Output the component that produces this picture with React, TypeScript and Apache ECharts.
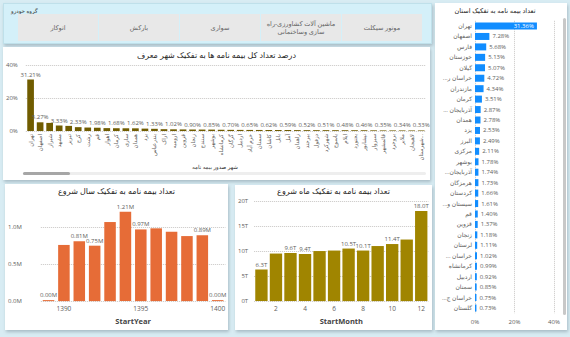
import React, { useEffect, useRef } from "react";
import * as echarts from "echarts";

const FONT = "'Segoe UI', 'Open Sans', 'DejaVu Sans', sans-serif";
const TXT = "#605e5c";
const TITLE = "#252423";
const GRID = "#c8c6c4";

// ---- slicer ----
const slicerTitle = "گروه خودرو";
const vehicleGroups = [
  "اتوکار",
  "بارکش",
  "سواری",
  "ماشین آلات کشاورزی-راه\nسازی وساختمانی",
  "موتور سیکلت",
];

// ---- city chart ----
const cityTitle = "درصد تعداد کل بیمه نامه ها به تفکیک شهر معرف";
const cityAxisName = "شهر صدور بیمه نامه";
const cities = [
  "تهران", "اصفهان", "شیراز", "مشهد", "تبریز", "کرج", "رشت", "قم", "اهواز", "کرمان",
  "ساری", "همدان", "یزد", "بندرعباس", "اراک", "ارومیه", "قزوین", "زنجان", "سنندج", "بوشهر",
  "کرمانشاه", "گرگان", "اردبیل", "خرم آباد", "سمنان", "کاشان", "بابل", "آمل", "زاهدان", "بیرجند",
  "دزفول", "شهرکرد", "یاسوج", "ایلام", "بجنورد", "نیشابور", "سبزوار", "قائمشهر", "بروجرد", "ملایر",
  "لاهیجان", "شهرستان...",
];
const cityShares = [
  31.21, 5.27, 4.9, 3.33, 3.1, 2.33, 2.1, 1.98, 1.75, 1.68,
  1.65, 1.62, 1.45, 1.33, 1.1, 1.02, 0.95, 0.9, 0.87, 0.85,
  0.75, 0.7, 0.67, 0.65, 0.63, 0.62, 0.6, 0.59, 0.55, 0.52,
  0.51, 0.51, 0.49, 0.48, 0.47, 0.46, 0.4, 0.35, 0.35, 0.34,
  0.33, 0.33,
];

// ---- year chart ----
const yearTitle = "تعداد بیمه نامه به تفکیک سال شروع";
const years = ["1389", "1390", "1391", "1392", "1393", "1394", "1395", "1396", "1397", "1398", "1399", "1400"];
const yearCounts = [0.002, 0.76, 0.81, 0.75, 1.07, 1.21, 0.97, 0.985, 0.94, 0.88, 0.89, 0.002];
const yearLabelIdx = [0, 2, 3, 5, 6, 10, 11];

// ---- month chart ----
const monthTitle = "تعداد بیمه نامه به تفکیک ماه شروع";
const months = ["1", "2", "3", "4", "5", "6", "7", "8", "9", "10", "11", "12"];
const monthCounts = [6.3, 9.5, 9.6, 9.4, 10.0, 10.1, 10.5, 10.1, 11.0, 11.4, 12.3, 18.0];
const monthLabelIdx = [0, 2, 3, 6, 7, 9, 11];

// ---- province chart ----
const provinceTitle = "تعداد بیمه نامه به تفکیک استان";
const provinces = [
  "تهران", "اصفهان", "فارس", "خوزستان", "گیلان", "...خراسان ر", "مازندران", "کرمان",
  "... آذربایجان", "همدان", "یزد", "البرز", "مرکزی", "بوشهر", "...آذربایجان", "هرمزگان",
  "کردستان", "...سیستان و", "قم", "قزوین", "زنجان", "لرستان", "... خراسان", "کرمانشاه",
  "اردبیل", "سمنان", "...خراسان ج", "گلستان",
];
const provinceShares = [
  31.36, 7.28, 5.68, 5.13, 5.07, 4.72, 4.34, 3.51, 2.87, 2.78, 2.53, 2.49, 2.11, 1.78,
  1.74, 1.73, 1.66, 1.61, 1.4, 1.37, 1.18, 1.11, 1.02, 0.99, 0.92, 0.85, 0.75, 0.73,
];

function EChart({ option, width, height }: { option: any; width: number; height: number }) {
  const ref = useRef<HTMLDivElement>(null);
  useEffect(() => {
    const chart = echarts.init(ref.current as HTMLDivElement, null, { renderer: "svg" });
    chart.setOption(option);
    return () => chart.dispose();
  }, []);
  return <div ref={ref} style={{ width, height, position: "absolute", left: 0, top: 0 }} />;
}

function Panel({ x, y, w, h, bg, shadow, border, children }: any) {
  return (
    <div
      style={{
        position: "absolute",
        left: x,
        top: y,
        width: w,
        height: h,
        background: bg,
        boxShadow: shadow ? "1px 2px 3px rgba(80,100,115,0.35)" : "none",
        border: border || "none",
        boxSizing: "border-box",
        overflow: "hidden",
      }}
    >
      {children}
    </div>
  );
}

const titleStyle = { fontSize: 8, fontWeight: "normal", color: TITLE, fontFamily: FONT };

const slicerOption = {
  animation: false,
  textStyle: { fontFamily: FONT },
  graphic: [
    {
      type: "text",
      style: { text: slicerTitle, x: 7, y: 4, fontSize: 5.5, fontFamily: FONT, fill: "#333" },
    },
    ...vehicleGroups.map((g, i) => ({
      type: "group",
      x: 14 + i * 81,
      y: 10,
      children: [
        { type: "rect", shape: { x: 0, y: 0, width: 80, height: 27 }, style: { fill: "#e8e8e8" } },
        {
          type: "text",
          style: {
            text: g,
            x: 40,
            y: 13.5,
            textAlign: "center",
            textVerticalAlign: "middle",
            fontSize: 6.5,
            lineHeight: 8,
            fontFamily: FONT,
            fill: "#666",
          },
        },
      ],
    })),
  ],
};

const cityOption = {
  animation: false,
  textStyle: { fontFamily: FONT },
  title: { text: cityTitle, left: "center", top: 3, padding: 0, textStyle: titleStyle },
  grid: { left: 22, right: 4, top: 18, bottom: 49 },
  xAxis: {
    type: "category",
    data: cities,
    axisTick: { show: false },
    axisLine: { show: false },
    axisLabel: { interval: 0, rotate: 90, fontSize: 5.5, color: TXT, margin: 3 },
  },
  yAxis: {
    type: "value",
    min: 0,
    max: 40,
    interval: 20,
    axisLabel: { formatter: "{value}%", fontSize: 6, color: TXT, margin: 8 },
    splitLine: { lineStyle: { type: "dotted", color: GRID } },
  },
  series: [
    {
      type: "bar",
      data: cityShares.map((v, i) => ({ value: v, label: { show: i === 0 || i % 2 === 1 } })),
      barCategoryGap: "30%",
      itemStyle: { color: "#705c00" },
      label: {
        position: "top",
        fontSize: 6,
        color: TXT,
        distance: 2,
        formatter: (p: any) => p.value.toFixed(2) + "%",
      },
    },
  ],
  graphic: [
    {
      type: "text",
      style: {
        text: cityAxisName,
        x: 212,
        y: 120,
        textAlign: "center",
        textVerticalAlign: "middle",
        fontSize: 5.5,
        fontFamily: FONT,
        fill: "#333",
      },
    },
    { type: "rect", shape: { x: 20, y: 125, width: 403, height: 3, r: 1.5 }, style: { fill: "#eeeeee" } },
    { type: "rect", shape: { x: 20, y: 125, width: 47, height: 3, r: 1.5 }, style: { fill: "#a6a6a6" } },
  ],
};

const yearOption = {
  animation: false,
  textStyle: { fontFamily: FONT },
  title: { text: yearTitle, left: "center", top: 2, padding: 0, textStyle: titleStyle },
  grid: { left: 34, right: 1, top: 17.35, bottom: 22 },
  xAxis: {
    type: "category",
    data: years,
    axisTick: { show: false },
    axisLine: { show: false },
    axisLabel: {
      interval: (_i: number, v: string) => Number(v) % 5 === 0,
      fontSize: 6.5,
      color: TXT,
      margin: 4,
    },
    name: "StartYear",
    nameLocation: "middle",
    nameGap: 11,
    nameTextStyle: { fontSize: 7.5, color: "#444", fontWeight: "bold", fontFamily: FONT },
  },
  yAxis: {
    type: "value",
    min: 0,
    max: 1.35,
    interval: 0.5,
    axisLabel: {
      formatter: (v: number) => v.toFixed(1) + "M",
      fontSize: 6,
      color: TXT,
      margin: 19,
      showMaxLabel: false,
    },
    splitLine: { showMaxLine: false, lineStyle: { type: "dotted", color: GRID } },
  },
  series: [
    {
      type: "bar",
      data: yearCounts.map((v, i) => ({ value: v, label: { show: yearLabelIdx.includes(i) } })),
      barCategoryGap: "25%",
      barMinHeight: 1,
      itemStyle: { color: "#e66c37" },
      label: {
        position: "top",
        fontSize: 6,
        color: TXT,
        distance: 2,
        formatter: (p: any) => p.value.toFixed(2) + "M",
      },
    },
  ],
};

const monthOption = {
  animation: false,
  textStyle: { fontFamily: FONT },
  title: { text: monthTitle, left: "center", top: 1, padding: 0, textStyle: titleStyle },
  grid: { left: 14, right: 3.5, top: 16, bottom: 22 },
  xAxis: {
    type: "category",
    data: months,
    axisTick: { show: false },
    axisLine: { show: false },
    axisLabel: {
      interval: (i: number) => i % 2 === 1,
      fontSize: 6.5,
      color: TXT,
      margin: 4,
    },
    name: "StartMonth",
    nameLocation: "middle",
    nameGap: 11,
    nameTextStyle: { fontSize: 7.5, color: "#444", fontWeight: "bold", fontFamily: FONT },
  },
  yAxis: {
    type: "value",
    min: 0,
    max: 20,
    interval: 5,
    axisLabel: { formatter: "{value}T", fontSize: 6, color: TXT, margin: 6 },
    splitLine: { lineStyle: { type: "dotted", color: GRID } },
  },
  series: [
    {
      type: "bar",
      data: monthCounts.map((v, i) => ({ value: v, label: { show: monthLabelIdx.includes(i) } })),
      barCategoryGap: "15%",
      itemStyle: { color: "#a08500" },
      label: {
        position: "top",
        fontSize: 6,
        color: TXT,
        distance: 2,
        formatter: (p: any) => p.value.toFixed(1) + "T",
      },
    },
  ],
};

const provinceOption = {
  animation: false,
  textStyle: { fontFamily: FONT },
  grid: { left: 40, right: 13, top: 17.8, bottom: 16.8 },
  xAxis: {
    type: "value",
    min: 0,
    max: 40,
    interval: 20,
    axisLabel: { formatter: "{value}%", fontSize: 6, color: TXT, margin: 6 },
    splitLine: { lineStyle: { type: "dotted", color: GRID } },
  },
  yAxis: {
    type: "category",
    inverse: true,
    data: provinces,
    axisTick: { show: false },
    axisLine: { show: false },
    axisLabel: { interval: 0, fontSize: 6, color: TXT, margin: 3 },
  },
  series: [
    {
      type: "bar",
      data: provinceShares.map((v, i) =>
        i === 0
          ? { value: v, label: { position: "insideRight", color: "#ffffff" } }
          : { value: v }
      ),
      barCategoryGap: "33%",
      itemStyle: { color: "#118dff" },
      label: {
        show: true,
        position: "right",
        fontSize: 6,
        color: TXT,
        distance: 3,
        formatter: (p: any) => p.value.toFixed(2) + "%",
      },
    },
  ],
  graphic: [
    {
      type: "text",
      style: {
        text: provinceTitle,
        x: 60,
        y: 7,
        textAlign: "center",
        textVerticalAlign: "middle",
        fontSize: 6.5,
        fontFamily: FONT,
        fill: TITLE,
      },
    },
    { type: "rect", shape: { x: 128, y: 15, width: 3, height: 297, r: 1.5 }, style: { fill: "#c8c8c8" } },
  ],
};

export default function App() {
  return (
    <div
      style={{
        position: "fixed",
        left: 0,
        top: 0,
        width: 570,
        height: 337,
        background: "#d8ecf3",
        overflow: "hidden",
        fontFamily: FONT,
      }}
    >
      <Panel x={3} y={3} w={429} h={41} bg="#d4f0f9" shadow border="1px solid #bfe0ea">
        <EChart option={slicerOption} width={429} height={41} />
      </Panel>
      <Panel x={3} y={47} w={427} h={133} bg="#ffffff" shadow>
        <EChart option={cityOption} width={427} height={133} />
      </Panel>
      <Panel x={5} y={184} w={223} h={146} bg="#ffffff" shadow>
        <EChart option={yearOption} width={223} height={146} />
      </Panel>
      <Panel x={235} y={185} w={197} h={145} bg="#ffffff" shadow>
        <EChart option={monthOption} width={197} height={145} />
      </Panel>
      <Panel x={435} y={3} w={132} h={327} bg="#ffffff" shadow>
        <EChart option={provinceOption} width={132} height={327} />
      </Panel>
    </div>
  );
}
